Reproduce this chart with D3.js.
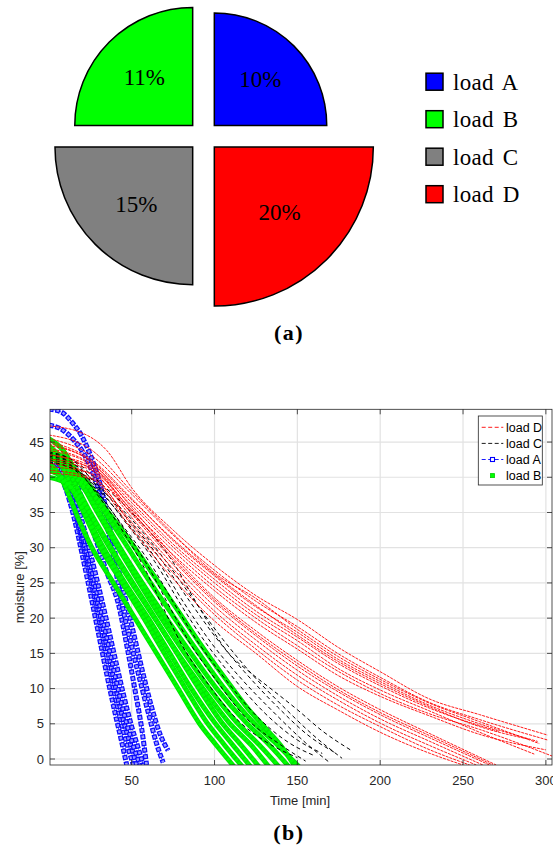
<!DOCTYPE html>
<html>
<head>
<meta charset="utf-8">
<script src="https://cdn.jsdelivr.net/npm/d3@7"></script>
<style>
  body { margin: 0; background: #fff; }
  svg { display: block; }
</style>
</head>
<body>
<div id="chart"></div>
<script>
// ---- (a) pie data ----
var pieLoads = ["load A", "load B", "load C", "load D"];
var pieValues = [10, 11, 15, 20];
var pieColors = ["#0000ff", "#00ff00", "#808080", "#ff0000"];
// quadrant order, clockwise from 12 o'clock
var pieOrder = ["load A", "load D", "load C", "load B"];

// ---- (b) drying curves, [time min, moisture %] ----
var loadA = [
  [[0,41.8],[5,41.0],[10,38.5],[15,34.5],[20,29.2],[25,23.6],[30,17.8],[35,12.0],[40,6.5],[44,2.4],[47,-0.85]],
  [[0,42.5],[5,41.8],[10,39.6],[15,36.0],[20,31.0],[25,25.8],[30,20.2],[35,14.5],[40,9.0],[45,4.0],[51,-0.85]],
  [[0,41.2],[5,40.8],[10,39.2],[15,36.2],[20,31.8],[25,26.8],[30,21.5],[35,16.0],[40,10.5],[45,5.5],[50,1.5],[53,-0.85]],
  [[0,42.8],[5,42.3],[10,40.5],[15,37.2],[20,32.8],[25,27.8],[30,22.6],[35,17.2],[40,11.8],[45,6.8],[50,2.6],[55,-0.85]],
  [[0,41.5],[5,41.2],[10,40.0],[15,37.6],[20,33.8],[25,29.3],[30,24.5],[35,19.5],[40,14.3],[45,9.2],[50,4.6],[54,1.5],[57,-0.85]],
  [[0,43.5],[5,43.0],[10,42.0],[15,40.0],[20,37.0],[25,33.5],[30,30.0],[35,26.5],[42,22.0],[47,16.2],[52,9.8],[56,4.4],[59,-0.85]],
  [[0,47.4],[7,46.9],[15,45.3],[21,43.4],[25,41.5],[29,39.0],[33,35.5],[37,31.0],[41,26.0],[45,21.0],[50,16.0],[55,11.2],[60,6.6],[65,2.2],[69,-0.5]],
  [[0,49.7],[8,49.2],[14,47.8],[20,45.8],[25,43.2],[30,39.8],[34,36.0],[38,31.5],[42,27.0],[47,22.0],[52,17.0],[57,12.0],[62,7.4],[67,3.6],[72,1.2]]
];

var loadB = [
  [[0,42.0],[6,40.5],[12,37.5],[18,34.0],[26,30.0],[39,25.0],[52,20.0],[65,15.0],[78,10.0],[91,5.0],[101,2.0],[111,-0.85]],
  [[0,43.5],[8,41.5],[15,38.0],[22,34.5],[30,30.5],[43,25.5],[56,20.5],[69,15.3],[82,10.2],[95,5.3],[106,2.0],[116,-0.85]],
  [[0,41.0],[8,40.0],[16,37.5],[24,34.0],[33,30.0],[46,25.0],[60,20.0],[73,15.0],[86,10.0],[100,5.2],[111,2.0],[121,-0.85]],
  [[0,44.5],[8,42.5],[16,39.0],[25,35.0],[35,31.0],[48,26.0],[62,20.8],[76,15.5],[90,10.2],[104,5.3],[116,2.0],[126,-0.85]],
  [[0,40.0],[10,39.2],[19,37.0],[28,33.5],[38,29.5],[51,24.6],[65,19.6],[79,14.6],[94,9.7],[109,5.1],[122,2.0],[132,-0.85]],
  [[0,45.5],[8,44.0],[17,40.5],[27,36.0],[38,31.5],[52,26.0],[67,20.3],[82,15.0],[97,10.0],[113,5.3],[127,2.0],[138,-0.85]],
  [[0,42.8],[10,41.5],[20,38.8],[31,34.8],[43,30.0],[57,24.8],[72,19.6],[87,14.6],[102,9.8],[119,5.2],[133,2.0],[144,-0.85]],
  [[0,44.0],[10,42.6],[21,39.5],[33,35.3],[45,31.0],[60,25.5],[75,20.3],[90,15.2],[105,10.3],[123,5.3],[138,2.0],[150,-0.85]],
  [[0,43.0],[12,41.8],[24,39.0],[36,35.0],[48,31.3],[62,26.5],[77,21.4],[91,16.5],[106,11.6],[120,7.2],[133,3.8],[141,1.6],[148,-0.85]]
];

var loadC = [
  [[0,42.8],[15,41.5],[30,37.3],[45,32.2],[59,26.5],[70,21.0],[82,15.5],[95,11.0],[115,5.3],[130,2.6],[150,0.2]],
  [[0,43.2],[15,41.9],[30,37.8],[45,32.8],[60,27.3],[72,22.0],[85,16.5],[100,11.5],[120,5.6],[140,2.0],[155,-0.3]],
  [[0,42.2],[15,41.1],[30,37.6],[45,33.0],[62,27.5],[75,22.3],[90,16.6],[105,11.8],[125,6.2],[145,2.3],[160,0.5]],
  [[0,43.6],[15,42.3],[30,38.5],[45,34.0],[64,28.0],[80,21.8],[95,16.4],[110,11.9],[130,6.6],[150,2.7],[165,0.8]],
  [[0,42.5],[15,41.4],[30,38.2],[45,34.2],[66,28.0],[82,22.0],[98,16.5],[115,11.7],[135,6.8],[155,2.3],[170,-0.6]],
  [[0,43.0],[15,41.9],[30,38.8],[45,34.8],[68,28.2],[85,22.4],[100,17.5],[118,12.4],[138,7.4],[158,3.1],[172,1.0]],
  [[0,42.0],[15,41.2],[30,38.6],[50,34.0],[70,28.3],[88,22.4],[105,17.0],[122,12.2],[140,7.8],[160,3.3],[177,0.1]],
  [[0,43.4],[15,42.4],[30,39.4],[50,35.0],[74,28.3],[90,21.8],[109,14.9],[122,12.2],[135,9.8],[150,7.0],[165,4.0],[182,1.3]]
];

var loadD = [
  [[0,47.3],[20,46.3],[35,43.8],[50,38.5],[75,32.5],[100,27.5],[125,23.2],[150,19.8],[175,15.8],[200,12.4],[230,8.5],[260,6.3],[301,3.4]],
  [[0,45.5],[25,43.2],[50,37.6],[75,31.8],[100,26.8],[125,22.4],[150,18.8],[175,14.9],[200,11.6],[230,8.0],[260,5.6],[301,2.7]],
  [[0,45.1],[25,42.6],[50,37.0],[75,31.0],[100,26.0],[125,21.6],[150,18.0],[175,14.1],[200,11.0],[230,7.6],[260,5.0],[295,2.5]],
  [[0,44.1],[25,42.0],[50,36.4],[75,30.5],[100,25.5],[125,21.0],[150,17.3],[175,13.5],[200,10.4],[230,7.2],[272,3.9]],
  [[0,43.2],[25,41.6],[50,36.0],[75,30.1],[100,25.0],[125,20.5],[150,16.8],[175,12.8],[200,9.8],[230,6.8],[260,3.8],[293,0.7]],
  [[0,42.3],[25,41.1],[50,35.4],[75,29.6],[100,24.4],[125,20.0],[150,16.1],[175,12.4],[200,9.3],[230,6.4],[260,4.2],[304,0.4]],
  [[0,41.5],[25,40.6],[50,34.9],[75,29.0],[100,23.9],[125,19.4],[150,15.6],[175,11.8],[200,8.9],[230,6.1],[260,3.5],[300,1.3]],
  [[0,46.0],[25,44.0],[50,38.0],[75,32.0],[100,26.4],[125,22.8],[150,18.4],[175,14.5],[200,11.3],[230,7.9],[260,5.3],[296,2.2]],
  [[0,44.8],[25,42.4],[50,36.8],[75,31.2],[100,26.2],[125,21.8],[150,17.6],[175,13.8],[200,10.7],[230,7.4],[260,4.6],[290,2.8]],
  [[0,42.0],[25,40.5],[50,33.2],[75,26.4],[100,20.5],[125,15.6],[150,11.2],[175,7.6],[200,4.6],[230,1.3],[254,-0.85]],
  [[0,41.0],[25,40.0],[50,33.6],[75,27.0],[100,21.0],[125,16.2],[150,11.9],[175,8.3],[200,5.1],[230,1.9],[258,-0.85]],
  [[0,43.2],[25,41.2],[50,34.3],[75,27.6],[100,21.7],[125,16.9],[150,12.6],[175,8.9],[200,5.7],[230,2.5],[262,-0.85]],
  [[0,42.6],[25,41.4],[50,34.8],[75,28.2],[100,22.3],[125,17.5],[150,13.2],[175,9.5],[200,6.3],[230,3.0],[266,-0.85]],
  [[0,43.8],[25,41.8],[50,35.2],[75,28.5],[100,22.6],[125,17.8],[150,13.6],[175,9.8],[200,6.6],[230,3.3],[268,-0.85]],
  [[0,44.5],[25,42.3],[50,35.7],[75,28.9],[100,22.9],[125,18.2],[150,14.0],[175,10.2],[200,7.0],[230,3.6],[270,-0.85]],
  [[0,40.6],[25,39.8],[50,32.6],[75,25.6],[100,19.6],[125,15.0],[150,10.3],[175,6.9],[200,3.8],[230,0.8],[250,-0.85]]
];

var xTicks = [50, 100, 150, 200, 250, 300];
var yTicks = [0, 5, 10, 15, 20, 25, 30, 35, 40, 45];
var legendB = ["load D", "load C", "load A", "load B"];

var svg = d3.select("#chart").append("svg")
  .attr("width", 553).attr("height", 855);

// ================= (a) =================
var pcx = 203.5, pcy = 136.2;
var r = d3.scaleSqrt().domain([0, 20]).range([0, 159]);
var valueOf = {};
pieLoads.forEach(function (k, i) { valueOf[k] = pieValues[i]; });
var colorOf = d3.scaleOrdinal().domain(pieLoads).range(pieColors);

var arcs = d3.pie().value(function () { return 1; }).sort(null)(pieOrder);
var arc = d3.arc().innerRadius(0);

var gPie = svg.append("g").attr("transform", "translate(" + pcx + "," + pcy + ")");
arcs.forEach(function (a) {
  var mid = (a.startAngle + a.endAngle) / 2;
  var off = 15.3;
  var rad = r(valueOf[a.data]);
  var g = gPie.append("g")
    .attr("transform", "translate(" + (Math.sin(mid) * off) + "," + (-Math.cos(mid) * off) + ")");
  g.append("path")
    .attr("d", arc.outerRadius(rad)(a))
    .attr("fill", colorOf(a.data))
    .attr("stroke", "#000")
    .attr("stroke-width", 1.5)
    .attr("stroke-linejoin", "miter");
  g.append("text")
    .attr("x", Math.sin(mid) * rad * 0.58)
    .attr("y", -Math.cos(mid) * rad * 0.58)
    .attr("dy", "0.35em")
    .attr("text-anchor", "middle")
    .style("font-family", "'Liberation Serif', serif")
    .style("font-size", "23px")
    .text(valueOf[a.data] + "%");
});

var gLegA = svg.append("g");
pieLoads.forEach(function (k, i) {
  var cy = 81.7 + i * 37.5;
  gLegA.append("rect")
    .attr("x", 426).attr("y", cy - 8.5)
    .attr("width", 17).attr("height", 17)
    .attr("fill", colorOf(k)).attr("stroke", "#000").attr("stroke-width", 1.5);
  gLegA.append("text")
    .attr("x", 453).attr("y", cy + 8)
    .style("font-family", "'Liberation Serif', serif")
    .style("font-size", "23px")
    .style("word-spacing", "3px")
    .style("letter-spacing", "0.3px")
    .text(k);
});

svg.append("text")
  .attr("x", 289).attr("y", 340)
  .attr("text-anchor", "middle")
  .style("font-family", "'Liberation Serif', serif")
  .style("font-weight", "bold")
  .style("font-size", "22px")
  .style("letter-spacing", "1.5px")
  .text("(a)");

// ================= (b) =================
var plotL = 50, plotR = 552, plotT = 409.3, plotB = 765;
var x = d3.scaleLinear().domain([0.7, 303.7]).range([plotL, plotR]);
var y = d3.scaleLinear().domain([-0.85, 49.65]).range([plotB, plotT]);
var axisColor = "#262626";

var gB = svg.append("g");

// grid
gB.append("g").selectAll("line").data(xTicks).join("line")
  .attr("x1", function (d) { return x(d); }).attr("x2", function (d) { return x(d); })
  .attr("y1", plotT).attr("y2", plotB)
  .attr("stroke", "#e2e2e2").attr("stroke-width", 1.2);
gB.append("g").selectAll("line").data(yTicks).join("line")
  .attr("y1", function (d) { return y(d); }).attr("y2", function (d) { return y(d); })
  .attr("x1", plotL).attr("x2", plotR)
  .attr("stroke", "#e2e2e2").attr("stroke-width", 1.2);

svg.append("clipPath").attr("id", "plotClip")
  .append("rect").attr("x", plotL).attr("y", plotT)
  .attr("width", plotR - plotL).attr("height", plotB - plotT);

var plot = gB.append("g").attr("clip-path", "url(#plotClip)");
var line = d3.line()
  .x(function (d) { return x(d[0]); })
  .y(function (d) { return y(d[1]); })
  .curve(d3.curveMonotoneX);

// load A: dashed blue with hollow square markers
loadA.forEach(function (c) {
  var g = plot.append("g").attr("fill", "none");
  g.append("path").attr("d", line(c))
    .attr("stroke", "#0000ff").attr("stroke-width", 0.8).attr("stroke-dasharray", "3,2");
  g.append("path").attr("d", line(c))
    .attr("stroke", "#0a0aff").attr("stroke-width", 5).attr("stroke-dasharray", "5,1.6");
  g.append("path").attr("d", line(c))
    .attr("stroke", "#9c9cff").attr("stroke-width", 2.6)
    .attr("stroke-dasharray", "2.6,4").attr("stroke-dashoffset", -1.2);
});

// load B: dense green markers (drawn as thick band)
plot.append("g").selectAll("path").data(loadB).join("path")
  .attr("d", line)
  .attr("fill", "none")
  .attr("stroke", "#00e600")
  .attr("stroke-width", 4.8)
  .attr("stroke-linecap", "square")
  .attr("stroke-linejoin", "round");
plot.append("g").selectAll("path").data(loadB).join("path")
  .attr("d", line)
  .attr("fill", "none")
  .attr("stroke", "#00ff00")
  .attr("stroke-width", 3)
  .attr("stroke-dasharray", "3,1.5");

// load C: black dashed
plot.append("g").selectAll("path").data(loadC).join("path")
  .attr("d", line)
  .attr("fill", "none")
  .attr("stroke", "#000")
  .attr("stroke-width", 1)
  .attr("stroke-dasharray", "4,3");

// load D: thin red dashed
plot.append("g").selectAll("path").data(loadD).join("path")
  .attr("d", line)
  .attr("fill", "none")
  .attr("stroke", "#ff0000")
  .attr("stroke-width", 0.9)
  .attr("stroke-dasharray", "3,1");

// axes box and inward ticks
var axes = gB.append("g").attr("stroke", axisColor).attr("stroke-width", 0.8);
axes.append("rect")
  .attr("x", plotL).attr("y", plotT).attr("width", plotR - plotL).attr("height", plotB - plotT)
  .attr("fill", "none");
xTicks.forEach(function (t) {
  axes.append("line").attr("x1", x(t)).attr("x2", x(t)).attr("y1", plotB).attr("y2", plotB - 5);
  axes.append("line").attr("x1", x(t)).attr("x2", x(t)).attr("y1", plotT).attr("y2", plotT + 5);
});
yTicks.forEach(function (t) {
  axes.append("line").attr("y1", y(t)).attr("y2", y(t)).attr("x1", plotL).attr("x2", plotL + 5);
  axes.append("line").attr("y1", y(t)).attr("y2", y(t)).attr("x1", plotR).attr("x2", plotR - 5);
});

var labelFont = "'Liberation Sans', Arial, sans-serif";
gB.append("g").selectAll("text").data(xTicks).join("text")
  .attr("x", function (d) { return x(d); })
  .attr("y", 785)
  .attr("text-anchor", "middle")
  .attr("fill", axisColor)
  .style("font-family", labelFont).style("font-size", "13px")
  .text(function (d) { return d; });
gB.append("g").selectAll("text").data(yTicks).join("text")
  .attr("x", 44)
  .attr("y", function (d) { return y(d); })
  .attr("dy", "0.35em")
  .attr("text-anchor", "end")
  .attr("fill", axisColor)
  .style("font-family", labelFont).style("font-size", "13px")
  .text(function (d) { return d; });

gB.append("text")
  .attr("x", 300).attr("y", 805)
  .attr("text-anchor", "middle")
  .attr("fill", axisColor)
  .style("font-family", labelFont).style("font-size", "13px")
  .text("Time [min]");
gB.append("text")
  .attr("transform", "translate(24," + ((plotT + plotB) / 2) + ") rotate(-90)")
  .attr("text-anchor", "middle")
  .attr("fill", axisColor)
  .style("font-family", labelFont).style("font-size", "13px")
  .text("moisture [%]");

// legend (b)
var lg = gB.append("g");
lg.append("rect")
  .attr("x", 478.3).attr("y", 416).attr("width", 64).attr("height", 69)
  .attr("fill", "#fff").attr("stroke", axisColor).attr("stroke-width", 0.8);
var legStyle = {
  "load D": { stroke: "#ff0000", dash: "4,2.5" },
  "load C": { stroke: "#000", dash: "4,2.5" },
  "load A": { stroke: "#0000ff", dash: "4,2.5" },
  "load B": { stroke: "none", dash: null }
};
legendB.forEach(function (k, i) {
  var cy = 427.3 + i * 16.1;
  var s = legStyle[k];
  if (s.stroke !== "none") {
    lg.append("line").attr("x1", 481.7).attr("x2", 503.3).attr("y1", cy).attr("y2", cy)
      .attr("stroke", s.stroke).attr("stroke-width", 0.9).attr("stroke-dasharray", s.dash);
  }
  if (k === "load A") {
    lg.append("rect").attr("x", 490.5).attr("y", cy - 2).attr("width", 4).attr("height", 4)
      .attr("fill", "#fff").attr("stroke", "#0000ff").attr("stroke-width", 1.1);
  }
  if (k === "load B") {
    lg.append("rect").attr("x", 490.5).attr("y", cy - 2).attr("width", 4).attr("height", 4)
      .attr("fill", "#00ff00").attr("stroke", "#00cc00").attr("stroke-width", 0.8);
  }
  lg.append("text")
    .attr("x", 506).attr("y", cy + 4.5)
    .attr("fill", "#000")
    .style("font-family", labelFont).style("font-size", "12.5px")
    .text(k);
});

svg.append("text")
  .attr("x", 289).attr("y", 840)
  .attr("text-anchor", "middle")
  .style("font-family", "'Liberation Serif', serif")
  .style("font-weight", "bold")
  .style("font-size", "22px")
  .style("letter-spacing", "1.5px")
  .text("(b)");
</script>
</body>
</html>
